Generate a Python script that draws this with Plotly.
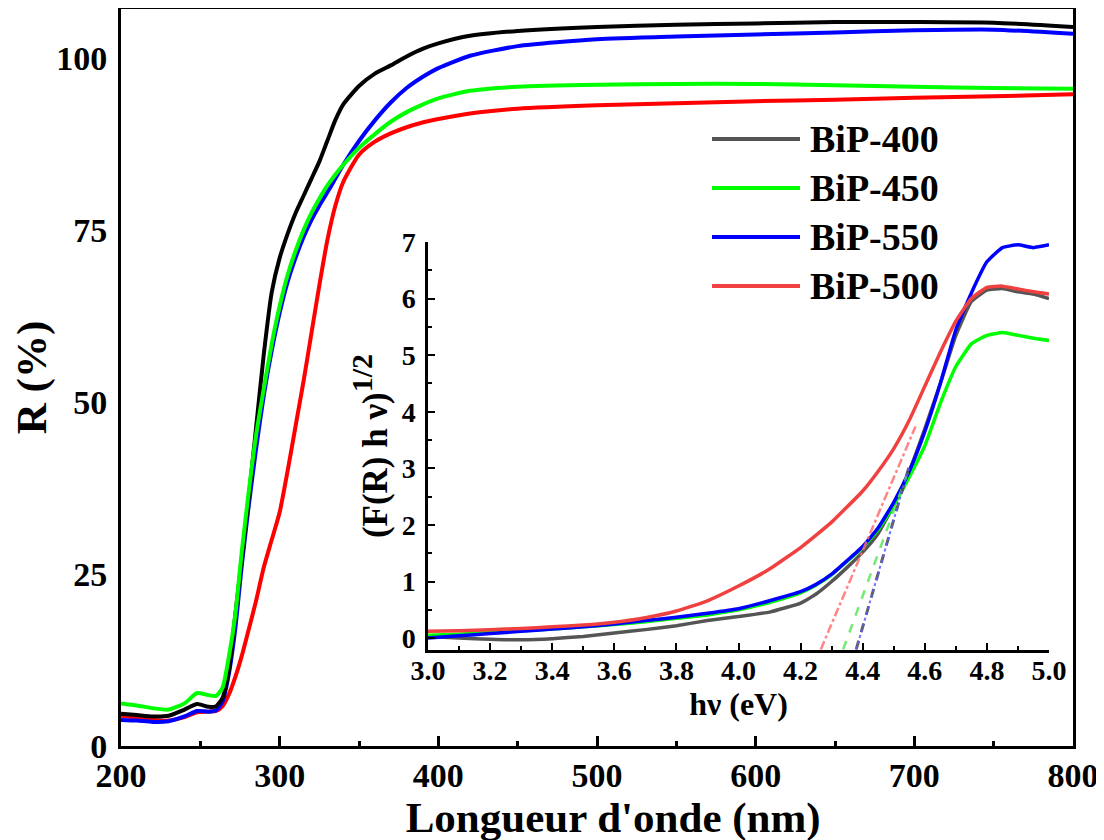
import plotly.graph_objects as go

# ---------------- Main chart data (reflectance vs wavelength) ----------------
wavelength = [200, 210, 220, 230, 240, 248, 255, 260, 264, 268, 272, 276, 280, 285, 290, 295,
              300, 305, 310, 315, 320, 325, 330, 335, 340, 350, 360, 370, 380, 390, 400, 420,
              450, 500, 550, 600, 650, 700, 750, 800]

R_bip400 = [4.7, 4.5, 4.3, 4.4, 5.3, 6.1, 5.7, 5.8, 7.0, 11.0, 19.0, 27.0, 35.0, 46.0, 57.0, 66.0,
            71.0, 74.5, 77.5, 80.0, 82.5, 85.0, 88.0, 91.0, 93.3, 96.0, 97.8, 99.0, 100.3, 101.4, 102.2, 103.3,
            104.0, 104.6, 104.9, 105.1, 105.3, 105.3, 105.2, 104.6]

R_bip450 = [6.2, 5.9, 5.5, 5.3, 6.2, 7.7, 7.4, 7.3, 8.5, 13.0, 19.0, 28.0, 36.0, 45.0, 52.0, 58.5,
            64.0, 68.5, 72.0, 75.0, 77.5, 79.6, 81.5, 83.1, 84.5, 87.0, 89.0, 90.8, 92.2, 93.3, 94.2, 95.3,
            95.9, 96.2, 96.3, 96.3, 96.1, 95.9, 95.7, 95.6]

R_bip550 = [3.8, 3.7, 3.5, 3.6, 4.3, 5.1, 5.0, 5.2, 6.5, 10.5, 17.0, 26.0, 34.0, 43.0, 51.0, 57.5,
            63.0, 67.5, 71.0, 74.0, 76.5, 78.6, 80.5, 82.5, 84.5, 88.0, 91.0, 93.6, 95.7, 97.3, 98.6, 100.4,
            101.8, 102.8, 103.2, 103.5, 103.8, 104.1, 104.2, 103.6]

R_bip500 = [4.4, 4.1, 3.8, 3.7, 4.2, 4.9, 5.0, 5.1, 5.8, 7.5, 10.0, 13.0, 16.5, 21.0, 26.0, 30.0,
            34.0, 40.0, 46.5, 53.0, 60.0, 67.0, 73.5, 78.5, 82.0, 86.0, 87.9, 89.1, 90.0, 90.7, 91.2, 92.0,
            92.7, 93.2, 93.5, 93.8, 94.0, 94.3, 94.5, 94.8]

# ---------------- Inset data (Kubelka-Munk plot) ----------------
energy = [3.0, 3.1, 3.2, 3.3, 3.4, 3.5, 3.6, 3.7, 3.8, 3.9, 4.0, 4.1, 4.2, 4.25, 4.3, 4.35, 4.4,
          4.45, 4.5, 4.55, 4.6, 4.65, 4.7, 4.75, 4.8, 4.85, 4.9, 4.95, 5.0]

km_bip400 = [0.03, 0.0, -0.02, -0.03, -0.01, 0.03, 0.09, 0.15, 0.22, 0.31, 0.38, 0.46, 0.62, 0.78, 1.0,
             1.25, 1.52, 1.85, 2.35, 2.95, 3.7, 4.5, 5.35, 5.95, 6.15, 6.18, 6.12, 6.08, 6.0]
km_bip450 = [0.05, 0.07, 0.1, 0.13, 0.16, 0.2, 0.24, 0.29, 0.35, 0.41, 0.5, 0.63, 0.8, 0.94, 1.12,
             1.36, 1.6, 1.92, 2.35, 2.85, 3.4, 4.15, 4.8, 5.2, 5.35, 5.4, 5.35, 5.3, 5.26]
km_bip550 = [0.0, 0.04, 0.08, 0.12, 0.16, 0.2, 0.25, 0.31, 0.37, 0.44, 0.52, 0.66, 0.82, 0.95, 1.13,
             1.37, 1.62, 1.95, 2.4, 2.95, 3.65, 4.5, 5.45, 6.1, 6.65, 6.9, 6.95, 6.9, 6.95]
km_bip500 = [0.12, 0.13, 0.15, 0.17, 0.2, 0.23, 0.28, 0.36, 0.48, 0.66, 0.92, 1.22, 1.6, 1.82, 2.05,
             2.32, 2.6, 2.95, 3.35, 3.85, 4.45, 5.05, 5.6, 6.0, 6.2, 6.22, 6.17, 6.12, 6.08]

# Tangent (band-gap extrapolation) lines: [x0, x1], [y0, y1]
tan400_x = [4.379, 4.55]
tan400_y = [-0.2, 3.04]
tan450_x = [4.337, 4.55]
tan450_y = [-0.2, 3.0]
tan550_x = [4.379, 4.55]
tan550_y = [-0.2, 3.04]
tan500_x = [4.265, 4.57]
tan500_y = [-0.2, 3.74]

legend_names = ["BiP-400", "BiP-450", "BiP-550", "BiP-500"]
legend_colors = ["#555555", "#00ff00", "#0000ff", "#f04040"]

FONT = "Times New Roman, Liberation Serif, serif"

fig = go.Figure()

# main traces
for y, c in [(R_bip500, "#ff0000"), (R_bip550, "#0000ff"), (R_bip400, "#000000"), (R_bip450, "#00ff00")]:
    fig.add_trace(go.Scatter(x=wavelength, y=y, mode="lines", line=dict(color=c, width=4, shape="spline", smoothing=0.6),
                             showlegend=False, xaxis="x", yaxis="y"))

# inset traces
for y, c in [(km_bip400, legend_colors[0]), (km_bip450, legend_colors[1]), (km_bip550, legend_colors[2]), (km_bip500, legend_colors[3])]:
    fig.add_trace(go.Scatter(x=energy, y=y, mode="lines", line=dict(color=c, width=3.5, shape="spline", smoothing=0.4),
                             showlegend=False, xaxis="x2", yaxis="y2"))

# tangents
fig.add_trace(go.Scatter(x=tan500_x, y=tan500_y, mode="lines", line=dict(color="rgba(255,110,110,0.85)", width=2.5, dash="dashdot"),
                         showlegend=False, xaxis="x2", yaxis="y2"))
fig.add_trace(go.Scatter(x=tan450_x, y=tan450_y, mode="lines", line=dict(color="rgba(90,230,90,0.85)", width=2.5, dash="dash"),
                         showlegend=False, xaxis="x2", yaxis="y2"))
fig.add_trace(go.Scatter(x=tan400_x, y=tan400_y, mode="lines", line=dict(color="rgba(70,70,70,0.85)", width=3, dash="dash"),
                         showlegend=False, xaxis="x2", yaxis="y2"))
fig.add_trace(go.Scatter(x=tan550_x, y=tan550_y, mode="lines", line=dict(color="rgba(90,90,255,0.85)", width=2, dash="dot"),
                         showlegend=False, xaxis="x2", yaxis="y2"))

# page pixel -> paper helpers for layout placement (page has ~7px body offset)
OFF = 7
L, R_, T, B = 120 - OFF, 32 + OFF, max(8 - OFF, 0), 95 + OFF
PW, PH = 1104 - L - R_, 840 - T - B
def px(x):
    return (x - OFF - L) / PW
def py(y):
    return (840 - B - (y - OFF)) / PH

fig.update_layout(
    width=1104, height=840,
    margin=dict(l=L, r=R_, t=T, b=B, autoexpand=False),
    paper_bgcolor="white", plot_bgcolor="rgba(0,0,0,0)",
    font=dict(family=FONT, color="black", weight="bold"),
    xaxis=dict(range=[200, 800], tickvals=[200, 300, 400, 500, 600, 700, 800], showgrid=False, zeroline=False,
               automargin=False,
               showline=True, linecolor="black", linewidth=3, mirror=True,
               ticks="inside", ticklen=10, tickwidth=2.5, tickcolor="black",
               minor=dict(dtick=50, ticks="inside", ticklen=5, tickwidth=2.5, tickcolor="black", showgrid=False),
               tickfont=dict(size=34, family=FONT, weight="bold"), ticklabelstandoff=-3,
               title=dict(text="&nbsp;&nbsp;&nbsp;Longueur d'onde (nm)", font=dict(size=43, family=FONT, weight="bold"), standoff=4)),
    yaxis=dict(range=[0, 107.2], tickvals=[0, 25, 50, 75, 100], showgrid=False, zeroline=False,
               automargin=False,
               showline=True, linecolor="black", linewidth=3, mirror=True, ticks="",
               tickfont=dict(size=34, family=FONT, weight="bold"), ticklabelstandoff=4,
               title=dict(text="R (%)", font=dict(size=43, family=FONT, weight="bold"), standoff=14)),
    xaxis2=dict(domain=[px(427), px(1048)], anchor="y2", range=[3.0, 5.0], dtick=0.2, tick0=3.0, tickformat=".1f",
                automargin=False,
                showgrid=False, zeroline=False, showline=True, linecolor="black", linewidth=2.5,
                ticks="inside", ticklen=7, tickwidth=2, tickcolor="black",
                minor=dict(dtick=0.1, ticks="inside", ticklen=4, tickwidth=2, tickcolor="black", showgrid=False),
                tickfont=dict(size=28, family=FONT, weight="bold"), ticklabelstandoff=-6,
                title=dict(text="hν (eV)", font=dict(size=32, family=FONT, weight="bold"), standoff=0)),
    yaxis2=dict(domain=[py(649), py(241)], anchor="x2", range=[-0.21, 7.0], dtick=1, tick0=0,
                automargin=False,
                showgrid=False, zeroline=False, showline=True, linecolor="black", linewidth=2.5,
                ticks="inside", ticklen=7, tickwidth=2, tickcolor="black",
                minor=dict(dtick=0.5, ticks="inside", ticklen=4, tickwidth=2, tickcolor="black", showgrid=False),
                tickfont=dict(size=28, family=FONT, weight="bold"), ticklabelstandoff=4,
                title=dict(text="(F(R) h ν)<sup><span style='font-size:30px'>1/2</span></sup>",
                           font=dict(size=35, family=FONT, weight="bold"), standoff=4)),
)

# manual legend
shapes = []
annotations = []
for i, (name, col) in enumerate(zip(legend_names, legend_colors)):
    yy = 138 + i * 49
    shapes.append(dict(type="line", xref="paper", yref="paper", x0=px(711), x1=px(799), y0=py(yy), y1=py(yy),
                       line=dict(color=col, width=4)))
    annotations.append(dict(xref="paper", yref="paper", x=px(807), y=py(yy), xanchor="left", yanchor="middle",
                            text=name, showarrow=False, font=dict(size=38, family=FONT, weight="bold", color="black")))
fig.update_layout(shapes=shapes, annotations=annotations)

fig.write_html("out.html")
